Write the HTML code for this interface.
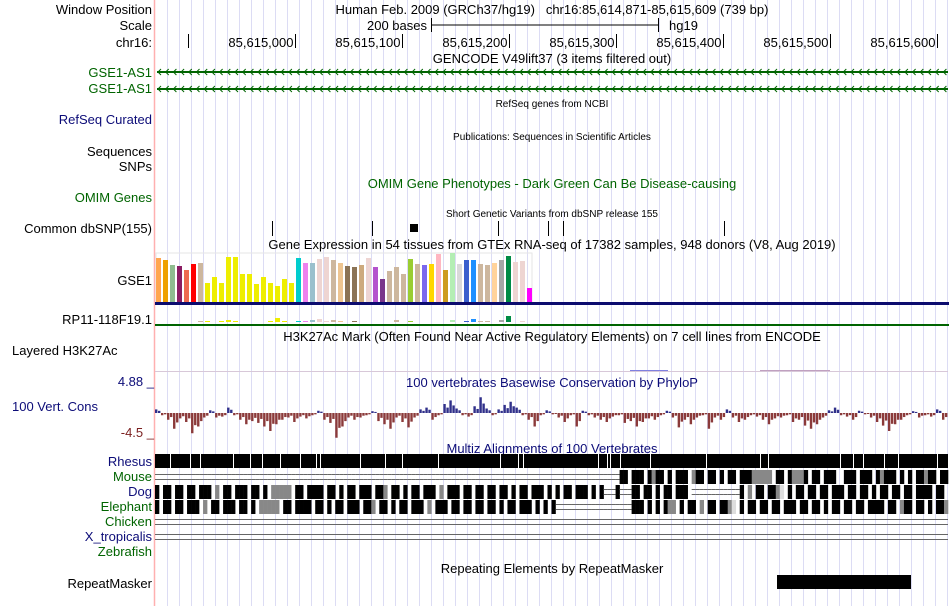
<!DOCTYPE html>
<html><head><meta charset="utf-8"><style>
body{margin:0;background:#fff;}
svg{display:block;font-family:"Liberation Sans",Arial,sans-serif;}
</style></head><body>
<svg id="s" width="950" height="606" viewBox="0 0 950 606" xmlns="http://www.w3.org/2000/svg">
<g id="grid"></g>
<line x1="154.5" y1="0" x2="154.5" y2="606" stroke="#ffb0b0" stroke-width="1.5"/>
<g font-size="13" fill="#000" text-anchor="end">
<text x="152" y="14">Window Position</text>
<text x="152" y="30">Scale</text>
<text x="152" y="47">chr16:</text>
<text x="152" y="77" fill="#006400">GSE1-AS1</text>
<text x="152" y="93" fill="#006400">GSE1-AS1</text>
<text x="152" y="124" fill="#0c0c78">RefSeq Curated</text>
<text x="152" y="156">Sequences</text>
<text x="152" y="171">SNPs</text>
<text x="152" y="202" fill="#006400">OMIM Genes</text>
<text x="152" y="233">Common dbSNP(155)</text>
<text x="152" y="285">GSE1</text>
<text x="152" y="324">RP11-118F19.1</text>
<text x="12" y="355" text-anchor="start">Layered H3K27Ac</text>
<text x="154" y="386" fill="#0c0c78">4.88 _</text>
<text x="12" y="411" text-anchor="start" fill="#0c0c78">100 Vert. Cons</text>
<text x="154" y="437" fill="#7a1e1e">-4.5 _</text>
<text x="152" y="466" fill="#0c0c78">Rhesus</text>
<text x="152" y="481" fill="#006400">Mouse</text>
<text x="152" y="496" fill="#0c0c78">Dog</text>
<text x="152" y="511" fill="#006400">Elephant</text>
<text x="152" y="526" fill="#006400">Chicken</text>
<text x="152" y="541" fill="#0c0c78">X_tropicalis</text>
<text x="152" y="556" fill="#006400">Zebrafish</text>
<text x="152" y="588">RepeatMasker</text>
</g>
<g font-size="13" text-anchor="middle">
<text x="552" y="14">Human Feb. 2009 (GRCh37/hg19)&#160;&#160;&#160;chr16:85,614,871-85,615,609 (739 bp)</text>
<text x="427" y="30" text-anchor="end">200 bases</text>
<text x="669" y="30" text-anchor="start">hg19</text>
<text x="552" y="63">GENCODE V49lift37 (3 items filtered out)</text>
<text x="552" y="107" font-size="10">RefSeq genes from NCBI</text>
<text x="552" y="140" font-size="10">Publications: Sequences in Scientific Articles</text>
<text x="552" y="188" fill="#006400">OMIM Gene Phenotypes - Dark Green Can Be Disease-causing</text>
<text x="552" y="217" font-size="10">Short Genetic Variants from dbSNP release 155</text>
<text x="552" y="249">Gene Expression in 54 tissues from GTEx RNA-seq of 17382 samples, 948 donors (V8, Aug 2019)</text>
<text x="552" y="341">H3K27Ac Mark (Often Found Near Active Regulatory Elements) on 7 cell lines from ENCODE</text>
<text x="552" y="387" fill="#0c0c78">100 vertebrates Basewise Conservation by PhyloP</text>
<text x="552" y="453" fill="#0c0c78">Multiz Alignments of 100 Vertebrates</text>
<text x="552" y="573">Repeating Elements by RepeatMasker</text>
</g>
<g>
<line x1="431" y1="25" x2="659" y2="25" stroke="#000"/>
<line x1="431.5" y1="18" x2="431.5" y2="32" stroke="#000"/>
<line x1="658.5" y1="18" x2="658.5" y2="32" stroke="#000"/>
</g>
<g id="ruler"></g>
<g id="genes"></g>
<g id="snps"></g>
<rect x="156" y="253" width="376" height="50" fill="none" stroke="#e6e6e6"/>
<g id="gtex"></g>
<g id="gtex2"></g>
<rect x="155" y="302" width="794" height="3" fill="#0c0c6e"/>
<rect x="155" y="324" width="794" height="2" fill="#006400"/>
<g>
<line x1="155" y1="371.5" x2="948" y2="371.5" stroke="#d8c8d8"/>
<line x1="630" y1="370.5" x2="668" y2="370.5" stroke="#8080e0"/>
<line x1="760" y1="370.5" x2="830" y2="370.5" stroke="#c0a0c0"/>
</g>
<g id="cons"></g>
<g id="multiz"></g>
<rect x="777" y="575" width="134" height="14" fill="#000"/>
</svg>
<script>
const NS="http://www.w3.org/2000/svg";
function mk(tag,attrs,parent){const e=document.createElementNS(NS,tag);for(const k in attrs)e.setAttribute(k,attrs[k]);parent.appendChild(e);return e;}
const X0=155,X1=948;
const grid=document.getElementById('grid');
for(let x=167;x<950;x+=12){const l=mk('line',{x1:x+0.5,y1:0,x2:x+0.5,y2:606,stroke:'#dcdcf4'},grid);

}
const tickPositions=[85614900,85615000,85615100,85615200,85615300,85615400,85615500,85615600];
const tickLabels=['','85,615,000','85,615,100','85,615,200','85,615,300','85,615,400','85,615,500','85,615,600'];
function xbp(b){return 295+(b-85615000)*1.07;}
const ruler=document.getElementById('ruler');
tickPositions.forEach((b,i)=>{const x=Math.round(xbp(b))+0.5;
const l=mk('line',{x1:x,y1:34,x2:x,y2:48,stroke:'#000'},ruler);


if(tickLabels[i]){const t=mk('text',{x:x-2,y:47,'font-size':13,'text-anchor':'end'},ruler);t.textContent=tickLabels[i];

}});
const genes=document.getElementById('genes');
[72,89].forEach(y=>{const l=mk('line',{x1:X0+2,y1:y,x2:X1,y2:y,stroke:'#006400','stroke-width':2},genes);


for(let x=158;x<948;x+=7.7){const p=mk('polyline',{points:`${x+3},${y-3} ${x},${y} ${x+3},${y+3}`,fill:'none',stroke:'#006400','stroke-width':1},genes);

}});
const snpX=[272,372,498,548,563,724];
const snps=document.getElementById('snps');
snpX.forEach(x=>{const l=mk('line',{x1:x+0.5,y1:221,x2:x+0.5,y2:236,stroke:'#000'},snps);

});
const sb=mk('rect',{x:410,y:224,width:8,height:8,fill:'#000'},snps);


const gtexValues=[44,42,37,36,32,38,39,19,25,19,45,45,28,28,18,25,19,16,23,19,44,39,39,43,45,42,39,36,35,37,44,35,23,31,35,28,43,38,37,38,48,32,49,38,42,42,38,37,39,42,46,40,41,14];
const gtexColors=['#ffa54f','#eea000','#8fbc8f','#8b1c62','#ee6a50','#ff0000','#cdb79e','#eeee00','#eeee00','#eeee00','#eeee00','#eeee00','#eeee00','#eeee00','#eeee00','#eeee00','#eeee00','#eeee00','#eeee00','#eeee00','#00cdcd','#ee82ee','#9ac0cd','#eed5d2','#eed5d2','#cdb79e','#eec591','#8b7355','#8b7355','#cdaa7d','#eed5d2','#b452cd','#7a378b','#cdb79e','#cdb79e','#cdb79e','#9acd32','#cdb79e','#7b68ee','#ffd700','#ffb6c1','#cd9b1d','#b4eeb4','#d9d9d9','#3a5fcd','#1e90ff','#cdb79e','#cdb79e','#ffd39b','#a6a6a6','#008b45','#eed5d2','#eed5d2','#ff00ff'];
const rp11Values=[0,0,0,0,0,0,1,1,0,1,2,1,0,0,0,0,1,4,1,0,1,1,2,3,1,2,1,0,1,0,0,0,0,0,2,0,1,0,0,0,0,0,2,0,1,3,1,1,0,2,6,0,1,0];
const gBase=302,gx=i=>156+i*7;
const gtex=document.getElementById('gtex');
gtexValues.forEach((v,i)=>{const r=mk('rect',{x:gx(i),y:gBase-v,width:5,height:v,fill:gtexColors[i]},gtex);

});
const gtex2=document.getElementById('gtex2');
rp11Values.forEach((v,i)=>{if(v<=0)return;const r=mk('rect',{x:gx(i),y:322-v,width:5,height:v,fill:gtexColors[i]},gtex2);

});
const consValues=[0.8,-0.5,-1.5,-3.5,-1.2,-2,-4.5,-3,-1,0.6,-1,-0.8,1.2,-0.5,-1.5,-2.5,-1.8,-2.2,-3,-4,-2.5,-1.5,-1,-2,-0.8,-1.2,-0.5,0.5,-1.5,-2.2,-5.5,-3,-1,-1.5,-1,-0.5,0.4,-1.8,-2.5,-3.5,-1,-2,-3.2,-1,0.8,1.2,-1.5,-0.5,2,2.8,1,-0.5,-0.8,1.5,3.5,1,-0.5,0.8,1.8,2.5,1.2,-0.5,-1.5,-3,-0.5,0.6,-0.3,-1,-2,-0.5,-3,0.5,-0.5,-1,-1.5,-2,-0.8,-0.5,-2.2,-1.8,-3,-2,-1.2,-1.5,-0.5,0.5,-1,-3.2,-1.5,-2.5,-1,-0.5,-3.5,-1,-1.5,0.8,-1,-2,-1.5,-0.5,-0.8,-1.5,-2.5,-1.2,-1,-0.5,-2,-1.5,-2.8,-3.5,-2.5,-1,0.6,1.2,-0.5,-0.8,-1.5,0.5,-0.3,-1,-2,-2.8,-4,-2.5,-1.5,-0.5,0.4,-1,-0.5,-0.8,0.8,-1.5];
const cBase=413,cScale=4.5;
const cons=document.getElementById('cons');
const bw=(X1-X0)/consValues.length;
consValues.forEach((v,i)=>{const x=X0+i*bw;
[0,0.5].forEach((f,k)=>{const vv=k?v*0.6:v;const h=Math.abs(vv)*cScale;
const r=mk('rect',{x:x+f*bw,y:vv>=0?cBase-h:cBase,width:bw/2-0.6,height:Math.max(h,1),fill:vv>=0?'#30308a':'#8b3a3a'},cons);

});});
const mix='KWKKWKKWKKWKKKWGWKKWKKKWKKWKWGGGGGWKKWKKKKWKKWKWKKWKKKWKKGWKKWKWKKWKKKWGWKKKWKKWKKWKKWKKWKWKKWKKKWKWKWKKWKKKWKWKWKGGWKWKKWGWKKWKKGgWKWKKWKKWKKWKKKWKKWKKWKWKKWKKWKKWKKKKWKKWGKKWKKWKWKKGKKWKWKKWKWGGK';
const mouseRow='L'.repeat(116)+'KKWKKKWKGKKWKWKKKWGKKWKKWKWKKWKKKGGGGGWKKWKGGGKWKKWKKKWWKKKWKKKWKGKKKWKWKWKKGKKWKK';
const dogRow=mix.slice(0,112)+'LLLKLLL'+mix.slice(40,55)+'L'.repeat(12)+mix.slice(120,172);
const elephantRow=mix.slice(3,103)+'L'.repeat(19)+mix.slice(105,184);
const rhesusGaps=[170,190,200,233,250,262,280,300,316,320,360,385,402,438,500,518,523,598,607,610,620,650,706,760,768,840,853,863,884,898,937];
const multiz=document.getElementById('multiz');
const rh=mk('rect',{x:X0,y:454,width:X1-X0,height:14,fill:'#000'},multiz);


rhesusGaps.forEach(x=>{const g=mk('rect',{x:x,y:454,width:1,height:14,fill:'#fff'},multiz);

});
function drawRow(str,top,name){const cw=(X1-X0)/str.length;for(let i=0;i<str.length;i++){const x=X0+i*cw;const c=str[i];
if(c==='L'){const a=mk('line',{x1:x,y1:top+4.5,x2:x+cw,y2:top+4.5,stroke:'#666'},multiz);
const b=mk('line',{x1:x,y1:top+9.5,x2:x+cw,y2:top+9.5,stroke:'#666'},multiz);}
else if(c!=='W'){const r=mk('rect',{x:x,y:top,width:cw+0.3,height:14,fill:c==='K'?'#000':c==='G'?'#888':'#ddd'},multiz);

}}}
drawRow(mouseRow,470,'mouse');
drawRow(dogRow,485,'dog');
drawRow(elephantRow,500,'elephant');
[519,524,534,539].forEach(y=>{const l=mk('line',{x1:X0,y1:y+0.5,x2:X1,y2:y+0.5,stroke:'#666'},multiz);

});
</script>
</body></html>
